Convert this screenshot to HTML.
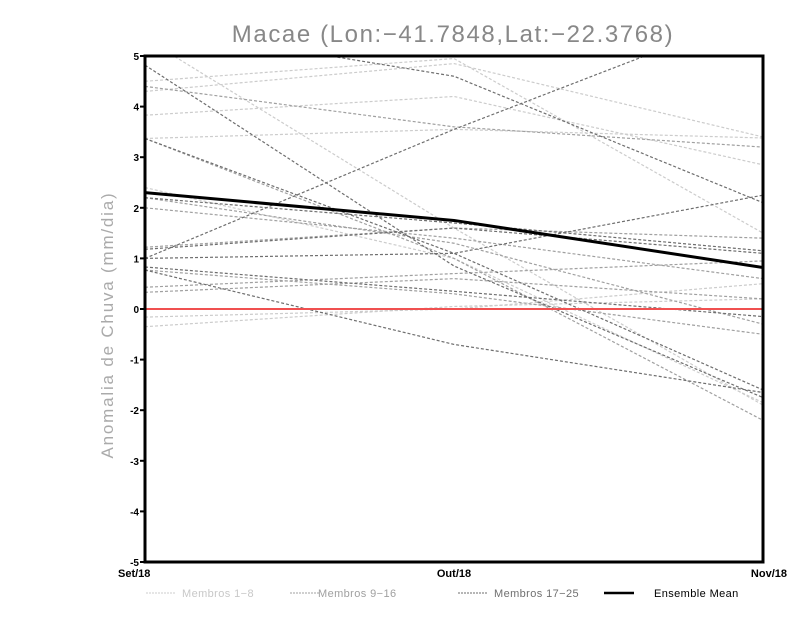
<!DOCTYPE html>
<html><head><meta charset="utf-8"><style>
body{margin:0;background:#fff;}
svg{display:block;font-family:"Liberation Sans",sans-serif;}
</style></head><body>
<svg id="chart" width="800" height="618">
<defs><clipPath id="plotclip"><rect x="145" y="56" width="618" height="506"/></clipPath></defs>
<rect width="800" height="618" fill="#fff"/>
<text x="453" y="42" text-anchor="middle" font-size="24" letter-spacing="1.6" fill="#888">Macae (Lon:−41.7848,Lat:−22.3768)</text>
<text transform="translate(113,325) rotate(-90)" text-anchor="middle" font-size="17" letter-spacing="1.8" fill="#aaa">Anomalia de Chuva (mm/dia)</text>
<g id="marks" clip-path="url(#plotclip)"></g>
<g id="axes"></g>
<g id="legend"></g>
</svg>
<script>
const categories = ["Set/18","Out/18","Nov/18"];
const yTicks = [5,4,3,2,1,0,-1,-2,-3,-4,-5];
const yTickLabels = ["5","4","3","2","1","0","-1","-2","-3","-4","-5"];
const members1to8 = [
 [5.35,1.6,-1.9],[4.5,4.95,1.5],[4.3,4.85,3.4],[3.83,4.2,2.85],
 [3.37,3.55,3.38],[2.4,1.0,-1.85],[-0.16,0.0,0.5],[-0.35,0.05,0.2]
];
const members9to16 = [
 [4.4,3.6,3.2],[2.0,1.4,0.6],[1.22,1.6,1.4],[0.43,0.7,0.95],
 [0.33,0.6,0.2],[3.37,1.0,-2.2],[0.77,0.3,-0.5],[2.2,1.3,-0.3]
];
const members17to25 = [
 [4.82,0.85,-1.75],[5.6,4.6,2.1],[1.0,3.55,5.9],[3.37,1.1,-1.6],
 [2.2,1.7,1.15],[1.0,1.1,2.25],[0.83,0.35,-0.15],[0.77,-0.7,-1.65],[1.18,1.6,1.1]
];
const ensembleMean = [2.3,1.75,0.82];
const zeroLine = [0,0,0];

const NS="http://www.w3.org/2000/svg";
const X0=145,X1=763,Y0=562,Y1=56;
function xs(i){return X0+(X1-X0)*i/(categories.length-1);}
function ys(v){return Y0-(v+5)/10*(Y0-Y1);}
function mk(tag,attrs,parent){const e=document.createElementNS(NS,tag);for(const k in attrs)e.setAttribute(k,attrs[k]);parent.appendChild(e);return e;}
const marks=document.getElementById('marks'),axes=document.getElementById('axes'),legend=document.getElementById('legend');
function pts(arr){return arr.map((v,i)=>xs(i)+","+ys(v)).join(" ");}
function drawGroup(data,color,name){
 data.forEach((s,k)=>{
  const p=mk('polyline',{points:pts(s),fill:'none',stroke:color,'stroke-width':1.2,'stroke-dasharray':'3,2'},marks);
  
  
 });
}
drawGroup(members1to8,'#cccccc','member-light-line');
drawGroup(members9to16,'#a0a0a0','member-mid-line');
drawGroup(members17to25,'#6e6e6e','member-dark-line');
const z=mk('polyline',{points:pts(zeroLine),fill:'none',stroke:'#f05050','stroke-width':2},marks);


const m=mk('polyline',{points:pts(ensembleMean),fill:'none',stroke:'#000','stroke-width':3},marks);


const fr=mk('rect',{x:X0,y:Y1,width:X1-X0,height:Y0-Y1,fill:'none',stroke:'#000','stroke-width':3},axes);


yTicks.forEach((v,i)=>{
 const t=mk('text',{x:139,y:ys(v)+4,'text-anchor':'end','font-size':10,'font-weight':'bold',fill:'#000'},axes);
 t.textContent=yTickLabels[i];
 
 
 const l=mk('line',{x1:X0-5,x2:X0,y1:ys(v),y2:ys(v),stroke:'#000','stroke-width':2},axes);
 
 
});
categories.forEach((c,i)=>{
 const anchor=i===0?'start':(i===categories.length-1?'end':'middle');
 const x=i===0?118:(i===categories.length-1?787:xs(i));
 const t=mk('text',{x:x,y:577,'text-anchor':anchor,'font-size':11,'font-weight':'bold',fill:'#000'},axes);
 t.textContent=c;
 
 
});
const leg=[['Membros 1−8','#cccccc',146,182,1],['Membros 9−16','#a0a0a0',290,318,1],['Membros 17−25','#6e6e6e',458,494,1],['Ensemble Mean','#000',604,654,3]];
leg.forEach((e,i)=>{
 const l=mk('line',{x1:e[2],x2:e[2]+30,y1:593,y2:593,stroke:e[1],'stroke-width':e[4]===3?2.5:1,'stroke-dasharray':e[4]===3?'none':'2,1'},legend);
 
 
 const t=mk('text',{x:e[3],y:597,'font-size':11,'letter-spacing':0.4,fill:e[4]===3?'#000':(i===0?'#c8c8c8':(i===1?'#a0a0a0':'#707070'))},legend);
 t.textContent=e[0];
 
 
});
</script>
</body></html>
